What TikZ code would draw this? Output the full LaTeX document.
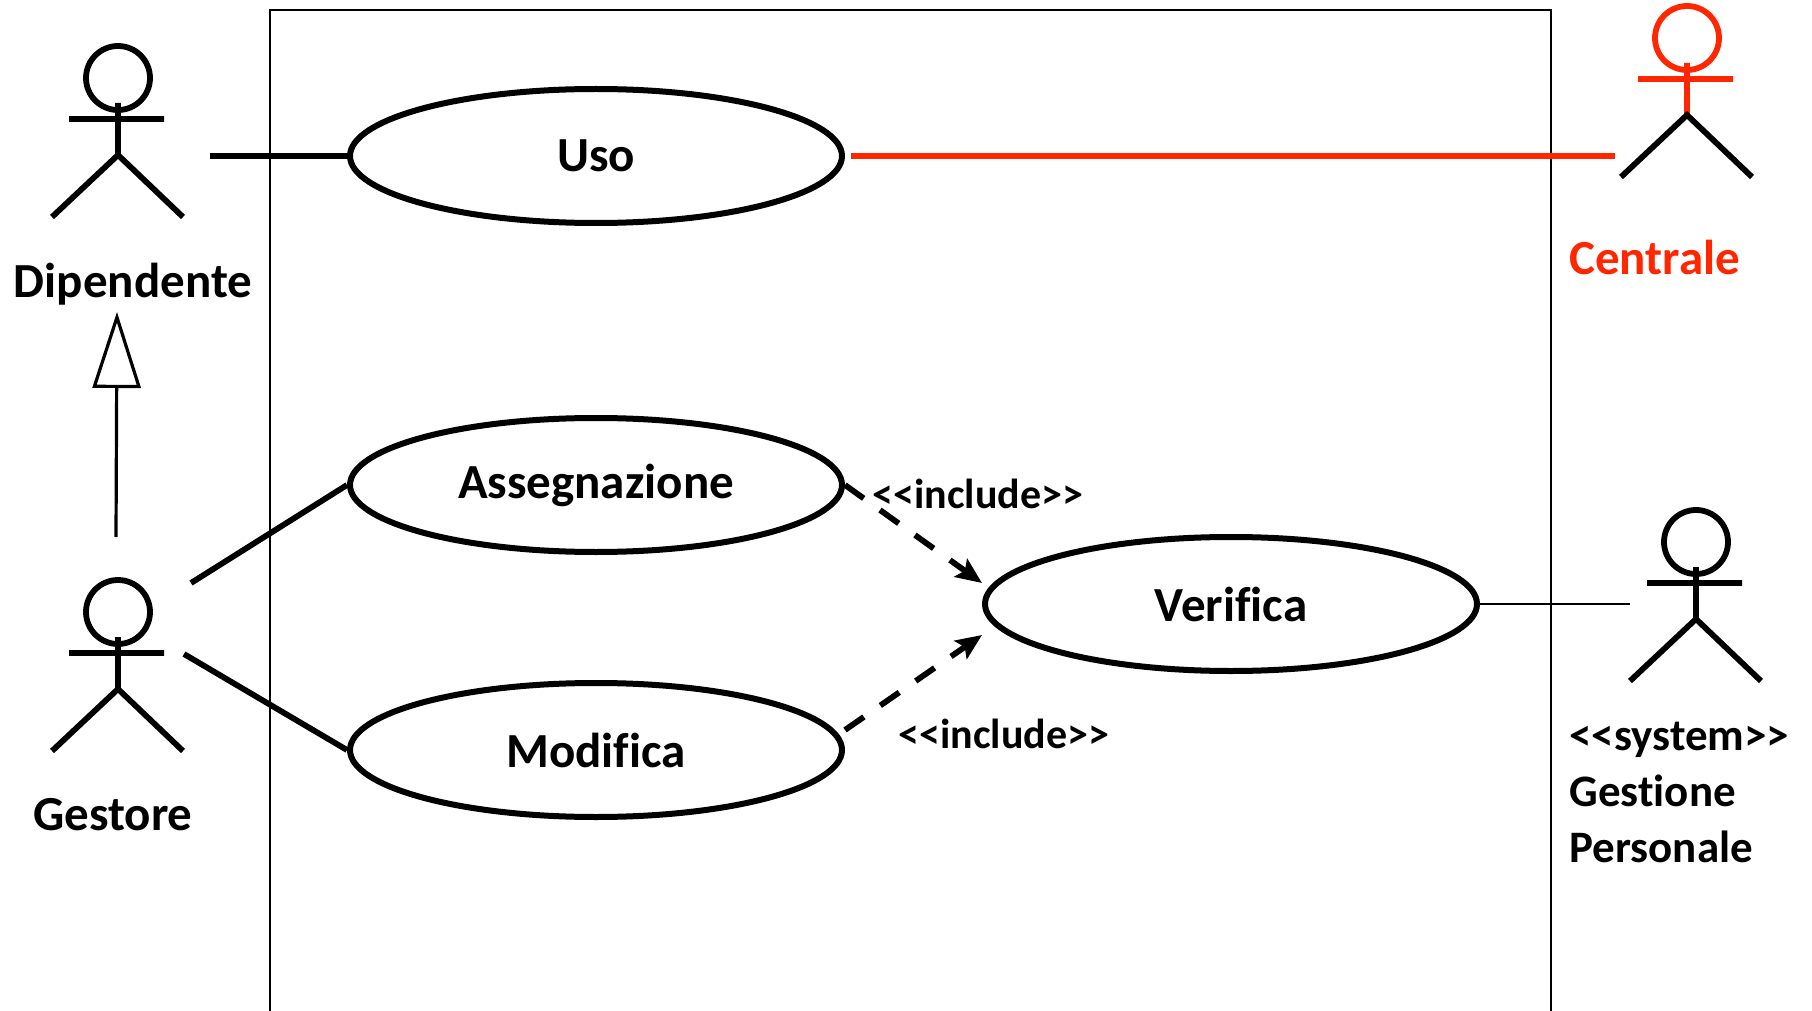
\documentclass[tikz,border=0pt]{standalone}
\usepackage{fontspec}
\setmainfont{Carlito}[Ligatures={TeXOff,CommonOff}]
\usetikzlibrary{shapes.geometric,arrows.meta}
\definecolor{centralered}{RGB}{255,38,0}
\tikzset{
  pics/actor/.style={code={
    \draw[fig, #1] (0,0) circle[radius=16pt] (0,25) -- (0,77) (-49,41) -- (46,41);
    \draw[fig] (-66,139) -- (0,77) -- (65,139);
  }},
  pics/actor/.default=black
}
\begin{document}
\begin{tikzpicture}[x=0.5pt,y=-0.5pt]
    \tikzstyle{fig}=[line width=2.9pt]
    \tikzstyle{usecase}=[ellipse, draw, line width=3pt, minimum width=246pt,
                            minimum height=67pt, font=\fontsize{24.5}{29}\selectfont\bfseries]
    \tikzstyle{assoc}=[line width=2.9pt]
    \tikzstyle{incl}=[line width=2.9pt, dash pattern=on 11.5pt off 10pt,
                            -{Stealth[length=13pt,width=11pt,inset=2.5pt]}]
    \tikzstyle{lbl}=[inner sep=0pt, font=\fontsize{24.5}{29}\selectfont\bfseries]
    \useasboundingbox (0,0) rectangle (1812,1011);

    % system boundary
    \draw[line width=1pt] (270,1011) |- (1551,10) -- (1551,1011);

    % actors
    \pic (dip) at (118,78) {actor};
    \pic (gest) at (118,612) {actor};
    \pic (cen) at (1687,38) {actor=centralered};
    \pic (gp) at (1696,542) {actor};

    \node[lbl, anchor=base] (dipname) at (133,297) {Dipendente};
    \node[lbl, anchor=base] (gestname) at (113,830) {Gestore};
    \node[lbl, anchor=base west, text=centralered] (cenname) at (1569,275) {Centrale};
    \node[lbl, anchor=base west, align=left, font=\fontsize{22.5}{28}\selectfont\bfseries]
        (gpname) at (1569,862) {<<system>>\\Gestione\\Personale};

    % use cases
    \node[usecase] (uso) at (596,156) {Uso};
    \node[usecase] (asg) at (596,485) {Assegnazione};
    \node[usecase] (mod) at (596,750) {Modifica};
    \node[usecase] (ver) at (1231,604) {Verifica};

    \coordinate (dipR) at (210,156);
    \coordinate (gestA) at (191,583);
    \coordinate (gestM) at (184,654);
    \coordinate (cenL) at (1615,156);
    \coordinate (gpL) at (1630,604);
    \coordinate (genTip) at (117,312);
    \coordinate (genFoot) at (116,537);

    \path[assoc] (dipR) edge (uso.west) (gestA) edge (asg.west) (gestM) edge (mod.west);
    \draw[assoc, centralered, shorten <=3pt] (uso.east) -- (cenL);
    \draw[line width=1pt] (ver.east) -- (gpL);
    \draw[line width=1.6pt, -{Triangle[open,length=38pt,width=24pt]}] (genFoot) -- (genTip);

    \draw[incl] (asg.east) -- ([yshift=10.5pt]ver.west);
    \draw[incl] ([yshift=10pt]mod.east) -- ([yshift=-15.5pt]ver.west);
    \node[lbl, anchor=base west, font=\fontsize{21}{25}\selectfont\bfseries]
        (inclA) at (872,508) {<<include>>};
    \node[lbl, anchor=base west, font=\fontsize{21}{25}\selectfont\bfseries]
        (inclM) at (898,748) {<<include>>};
\end{tikzpicture}
\end{document}
